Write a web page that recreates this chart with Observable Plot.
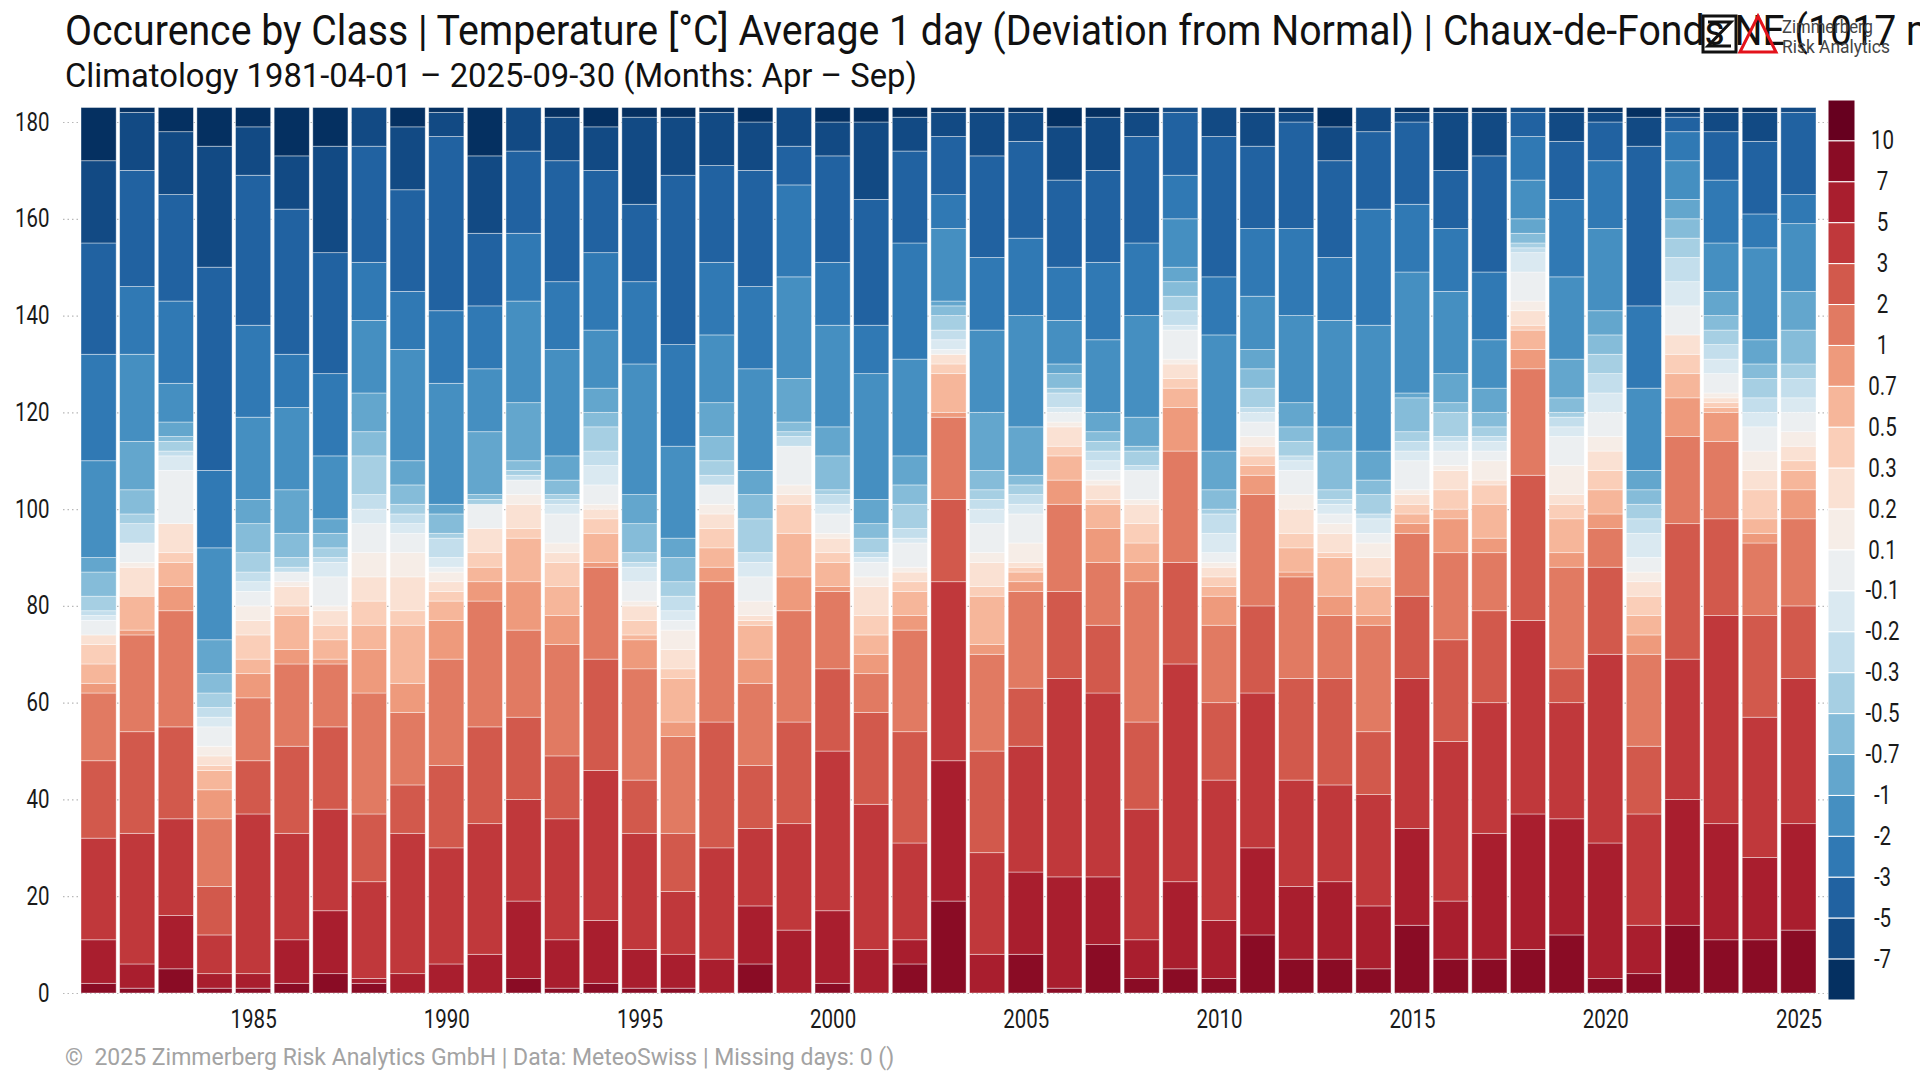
<!DOCTYPE html>
<html><head><meta charset="utf-8">
<script src="https://cdn.jsdelivr.net/npm/d3@7"></script>
<script src="https://cdn.jsdelivr.net/npm/@observablehq/plot@0.6"></script>
<style>
html,body{margin:0;padding:0;background:#fff;}
#page{position:relative;width:1920px;height:1080px;overflow:hidden;font-family:Roboto,sans-serif;background:#fff;}
#page > *{position:absolute;}
</style></head>
<body><div id="page"></div>
<script>
// ---------- categories / labels ----------
const years = [1981,1982,1983,1984,1985,1986,1987,1988,1989,1990,1991,1992,1993,1994,1995,1996,1997,1998,1999,2000,
  2001,2002,2003,2004,2005,2006,2007,2008,2009,2010,2011,2012,2013,2014,2015,2016,2017,2018,2019,2020,2021,2022,2023,2024,2025];
const xTickYears = [1985,1990,1995,2000,2005,2010,2015,2020,2025];
const yTicks = [0,20,40,60,80,100,120,140,160,180];
// classes, warmest (bottom of each bar) to coldest (top)
const classNames = [">10","7 – 10","5 – 7","3 – 5","2 – 3","1 – 2","0.7 – 1","0.5 – 0.7","0.3 – 0.5","0.2 – 0.3","0.1 – 0.2",
  "-0.1 – 0.1","-0.2 – -0.1","-0.3 – -0.2","-0.5 – -0.3","-0.7 – -0.5","-1 – -0.7","-2 – -1","-3 – -2","-5 – -3","-7 – -5","<-7"];
const legendTicks = ["10","7","5","3","2","1","0.7","0.5","0.3","0.2","0.1","-0.1","-0.2","-0.3","-0.5","-0.7","-1","-2","-3","-5","-7"];

// ---------- days per class (same order as classNames) ----------
const y1981 = [0,2,9,21,16,14,2,4,4,2,0,3,1,1,3,5,3,20,22,23,17,11];
const y1982 = [0,1,5,27,21,20,1,7,0,6,1,4,0,4,2,5,10,18,14,24,12,1];
const y1983 = [0,5,11,20,19,24,5,5,2,6,0,11,3,1,2,1,3,8,17,22,13,5];
const y1984 = [0,1,3,8,10,14,6,4,1,2,2,4,2,2,3,4,7,19,16,42,25,8];
const y1985 = [0,1,3,33,11,13,5,3,5,3,3,3,2,2,4,6,5,17,19,31,10,4];
const y1986 = [0,2,9,22,18,17,3,7,2,4,1,2,0,1,2,5,9,17,11,30,11,10];
const y1987 = [0,4,13,21,17,13,1,4,3,3,1,6,3,1,2,3,3,13,17,25,22,8];
const y1988 = [0,2,1,20,14,25,9,5,5,5,5,6,3,3,8,5,8,15,12,24,8,0];
const y1989 = [0,0,4,29,10,15,6,12,3,7,5,4,2,2,2,4,5,23,12,21,13,4];
const y1990 = [0,0,6,24,17,22,8,4,2,2,2,1,2,4,1,4,2,25,15,36,5,1];
const y1991 = [0,0,8,27,20,26,4,3,3,5,0,5,0,0,1,1,13,13,13,15,16,10];
const y1992 = [0,3,16,21,17,18,10,9,2,5,2,3,0,1,1,2,12,21,14,17,9,0];
const y1993 = [0,1,10,25,13,23,6,6,5,2,2,6,2,1,1,3,5,22,14,25,9,2];
const y1994 = [0,2,13,31,23,19,1,6,3,2,1,4,4,3,5,3,5,12,16,17,9,4];
const y1995 = [0,1,8,24,11,23,6,1,3,3,1,4,3,1,2,6,6,27,17,16,18,2];
const y1996 = [0,1,7,13,12,20,3,9,2,4,4,2,2,3,3,5,4,19,21,35,12,2];
const y1997 = [0,0,7,23,26,29,3,4,4,3,2,4,0,2,3,5,7,14,15,20,11,1];
const y1998 = [0,6,12,16,13,17,5,7,1,1,3,5,3,2,7,5,5,21,17,24,10,3];
const y1999 = [0,0,13,22,21,23,7,9,6,2,2,8,0,2,1,2,9,21,19,8,8,0];
const y2000 = [0,2,15,33,17,16,1,5,2,3,1,4,2,2,1,7,6,21,13,22,7,3];
const y2001 = [0,0,9,30,19,8,4,4,4,6,2,3,1,1,3,3,5,26,10,26,16,3];
const y2002 = [0,6,5,20,23,21,3,5,2,2,1,5,1,2,5,4,6,20,24,19,7,2];
const y2003 = [0,19,29,37,17,17,1,8,2,2,0,1,2,2,3,2,1,15,7,12,5,1];
const y2004 = [0,0,8,21,21,20,2,10,2,5,2,6,3,2,2,4,12,17,15,21,9,1];
const y2005 = [0,8,17,26,12,20,2,2,1,1,4,6,2,2,2,2,10,23,16,20,6,1];
const y2006 = [0,1,23,41,18,18,5,5,2,4,1,2,1,3,1,3,2,9,11,18,11,4];
const y2007 = [0,10,14,38,14,13,7,5,1,3,1,2,2,2,2,2,4,15,16,19,11,2];
const y2008 = [0,3,8,27,18,29,4,4,4,4,1,6,0,1,3,1,6,21,15,22,5,1];
const y2009 = [0,5,18,45,21,23,9,4,2,3,1,6,1,3,3,3,3,10,9,13,1,0];
const y2010 = [0,3,12,29,16,16,6,2,2,2,1,2,4,4,1,4,8,24,12,29,6,0];
const y2011 = [0,12,18,32,18,23,4,2,2,2,2,3,2,1,4,4,4,11,14,17,7,1];
const y2012 = [0,7,15,22,21,21,1,5,3,5,3,5,2,1,3,3,5,18,18,22,2,1];
const y2013 = [0,7,16,20,22,13,4,8,1,4,2,2,2,1,2,8,5,22,13,20,7,4];
const y2014 = [0,5,13,23,13,22,2,6,2,4,3,2,3,1,4,3,6,26,24,16,5,0];
const y2015 = [0,14,20,31,17,13,2,2,2,2,1,6,2,2,2,7,1,25,14,17,2,1];
const y2016 = [0,7,12,33,21,18,7,2,4,4,1,3,2,1,5,2,6,17,13,12,12,1];
const y2017 = [0,7,26,27,19,12,3,7,4,1,4,2,2,1,2,3,5,10,14,24,9,1];
const y2018 = [0,9,28,40,30,22,4,4,1,3,2,6,4,1,1,2,3,8,9,5,1,0];
const y2019 = [0,12,24,24,7,21,3,7,3,2,6,6,2,2,1,3,8,17,16,12,6,1];
const y2020 = [0,3,28,39,18,8,3,5,4,4,3,5,4,4,4,4,5,17,14,8,2,1];
const y2021 = [0,4,10,23,14,19,4,4,4,3,2,3,5,3,3,3,4,17,17,33,6,2];
const y2022 = [0,14,26,29,28,18,8,5,4,4,0,6,5,5,4,4,4,8,6,3,1,1];
const y2023 = [0,11,24,43,20,16,6,1,1,1,1,4,3,3,3,3,5,10,13,10,4,1];
const y2024 = [0,11,17,29,21,15,2,3,6,4,4,5,3,3,4,3,5,19,7,15,6,1];
const y2025 = [0,13,22,30,15,18,6,4,2,3,3,4,3,4,3,7,8,14,6,17,1,0];

const byYear = [y1981,y1982,y1983,y1984,y1985,y1986,y1987,y1988,y1989,y1990,y1991,y1992,y1993,y1994,y1995,
  y1996,y1997,y1998,y1999,y2000,y2001,y2002,y2003,y2004,y2005,y2006,y2007,y2008,y2009,y2010,y2011,y2012,
  y2013,y2014,y2015,y2016,y2017,y2018,y2019,y2020,y2021,y2022,y2023,y2024,y2025];

const titleText = "Occurence by Class | Temperature [°C] Average 1 day (Deviation from Normal) | Chaux-de-Fonds NE (1017 m)";
const titlePrefix = "Occurence by Class | Temperature [°C] Average 1 day (Deviation from Normal) | Chaux-de-Fonds";
const subtitleText = "Climatology 1981-04-01 – 2025-09-30 (Months: Apr – Sep)";
const footerText = "©  2025 Zimmerberg Risk Analytics GmbH | Data: MeteoSwiss | Missing days: 0 ()";

// ---------- derived tables ----------
const palette = d3.quantize(d3.interpolateRdBu, classNames.length);
const rows = [];
years.forEach((yr, yi) => byYear[yi].forEach((v, c) => { if (v > 0) rows.push({year: yr, cls: classNames[c], count: v}); }));
const legendBoxes = classNames.map((name, i) => ({i, color: palette[i]}));
const legendLabels = legendTicks.map((label, k) => ({pos: k + 1, label}));

const page = document.getElementById("page");
const FONT = "Roboto, 'Noto Sans', sans-serif";

function condense(root, s) {
  root.querySelectorAll("text").forEach(t => {
    const x = parseFloat(t.getAttribute("x")) || 0;
    const tr = t.getAttribute("transform") || "";
    t.setAttribute("transform", `${tr} translate(${x},0) scale(${s},1) translate(${-x},0)`);
  });
}
function fitText(sel, x0, x1, n) {
  const node = sel.node();
  const w = node.getSubStringLength(0, n == null ? node.getNumberOfChars() : n);
  const s = (x1 - x0) / w;
  sel.attr("transform", `translate(${x0},0) scale(${s},1) translate(${-x0},0)`);
}

// ---------- main chart ----------
const main = Plot.plot({
  width: 1920, height: 940,
  marginLeft: 63, marginRight: 92, marginTop: 7.5, marginBottom: 47,
  style: {fontFamily: FONT, fontSize: "25px", color: "#1a1a1a", background: "transparent", overflow: "visible"},
  x: {type: "band", domain: years, range: [81, 1816], paddingInner: 0.09, paddingOuter: 0, round: false,
      tickSize: 0, tickPadding: 17, tickFormat: d => xTickYears.includes(d) ? String(d) : "", label: null},
  y: {domain: [0, 183], ticks: yTicks, tickSize: 0, tickPadding: 14, label: null},
  color: {type: "ordinal", domain: classNames, range: palette},
  marks: [
    Plot.ruleY(yTicks, {stroke: "#b8b8b8", strokeWidth: 1.2, strokeDasharray: "1.5,3"}),
    Plot.barY(rows, {x: "year", y: "count", fill: "cls", stroke: "#ffffff", strokeOpacity: 0.5, strokeWidth: 0.8})
  ]
});
main.style.left = "0px"; main.style.top = "100px";
page.appendChild(main);
condense(main, 0.82);

// ---------- legend (vertical colour bar) ----------
const legend = Plot.plot({
  width: 100, height: 930, margin: 0,
  style: {fontFamily: FONT, fontSize: "25px", color: "#1a1a1a", background: "transparent", overflow: "visible"},
  x: {domain: [0, 1], range: [8, 35], axis: null},
  y: {domain: [0, 22], range: [10, 910], axis: null},
  marks: [
    Plot.rect(legendBoxes, {x1: 0, x2: 1, y1: "i", y2: d => d.i + 1, fill: "color", stroke: "#ffffff", strokeWidth: 1}),
    Plot.text(legendLabels, {x: 1, y: "pos", text: "label", dx: 27, textAnchor: "middle", fill: "#1a1a1a", fontSize: 25})
  ]
});
legend.style.left = "1820px"; legend.style.top = "90px";
page.appendChild(legend);
condense(legend, 0.82);

// ---------- header: title, subtitle, logo ----------
const header = d3.create("svg").attr("width", 1920).attr("height", 100)
  .style("left", "0px").style("top", "0px").style("overflow", "hidden");
page.appendChild(header.node());
const title = header.append("text").attr("x", 65).attr("y", 45).attr("font-family", FONT)
  .attr("font-size", 43).attr("fill", "#111").text(titleText);
const subtitle = header.append("text").attr("x", 65).attr("y", 87).attr("font-family", FONT)
  .attr("font-size", 34).attr("fill", "#111").text(subtitleText);
const logo = header.append("g");
logo.append("rect").attr("x", 1703).attr("y", 16).attr("width", 33).attr("height", 36)
  .attr("fill", "none").attr("stroke", "#111").attr("stroke-width", 3);
logo.append("path").attr("d", "M1708,22 H1731 L1708,46 H1731").attr("fill", "none").attr("stroke", "#111").attr("stroke-width", 3);
logo.append("path").attr("d", "M1740,52 L1758,16 L1776,52 Z").attr("fill", "none").attr("stroke", "#e3121b").attr("stroke-width", 3);
const l1 = logo.append("text").attr("x", 1782).attr("y", 33).attr("font-family", FONT).attr("font-size", 18).attr("fill", "#444").text("Zimmerberg");
const l2 = logo.append("text").attr("x", 1782).attr("y", 53).attr("font-family", FONT).attr("font-size", 18).attr("fill", "#444").text("Risk Analytics");

// ---------- footer ----------
const footer = d3.create("svg").attr("width", 1920).attr("height", 40)
  .style("left", "0px").style("top", "1040px");
page.appendChild(footer.node());
const foot = footer.append("text").attr("x", 65).attr("y", 25).attr("font-family", FONT)
  .attr("font-size", 23).attr("fill", "#a3a3a3").style("white-space", "pre").text(footerText);

function layoutText() {
  fitText(title, 65, 1725, titlePrefix.length);
  fitText(subtitle, 65, 917);
  fitText(foot, 65, 894);
  fitText(l1, 1782, 1873);
  fitText(l2, 1782, 1890);
}
layoutText();
if (document.fonts && document.fonts.ready) document.fonts.ready.then(layoutText);
</script>
</body></html>
